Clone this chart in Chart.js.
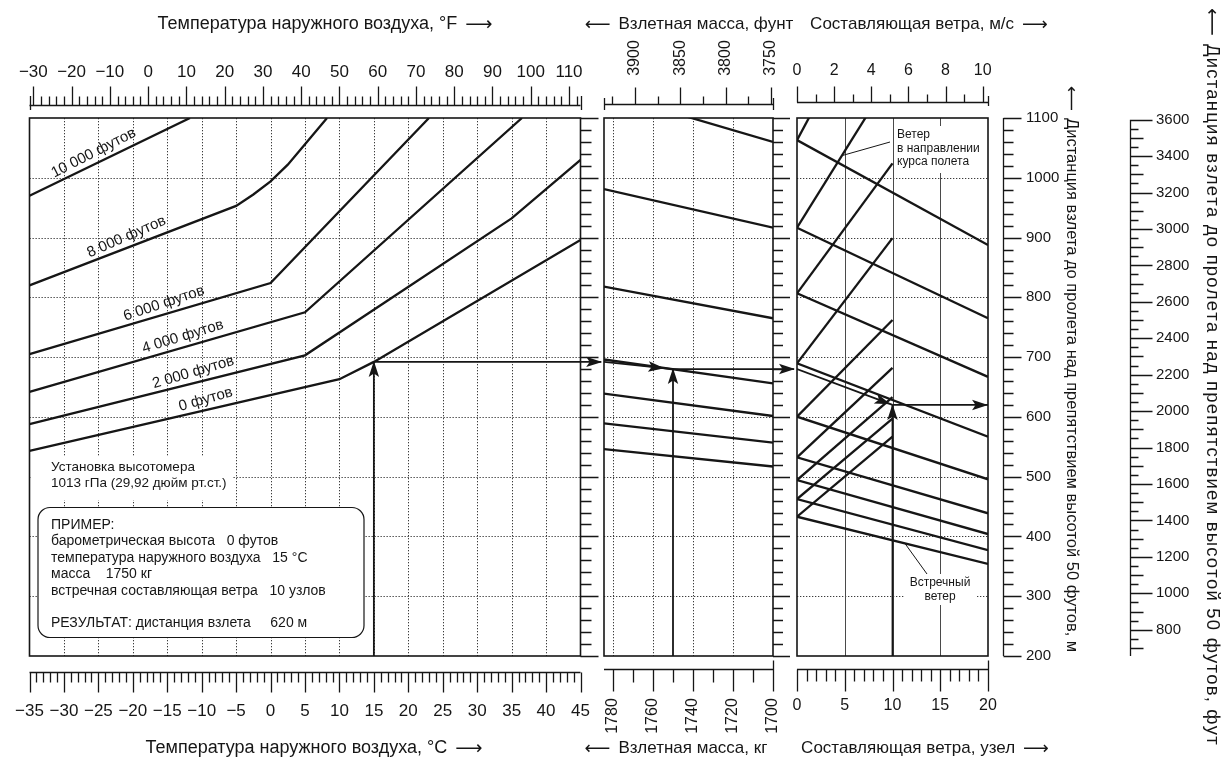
<!DOCTYPE html>
<html lang="ru">
<head>
<meta charset="utf-8">
<title>Дистанция взлета</title>
<script src="https://cdn.jsdelivr.net/npm/chart.js@4.4.1/dist/chart.umd.min.js"></script>
<style>
  html, body { margin: 0; padding: 0; background: #ffffff; }
  #sheet { position: relative; width: 1225px; height: 758px; overflow: hidden; background: #ffffff; }
  #sheet canvas { position: absolute; left: 0; top: 0; }
</style>
</head>
<body>
<div id="sheet">
  <canvas id="tempChart" width="1225" height="758"></canvas>
  <canvas id="massChart" width="1225" height="758"></canvas>
  <canvas id="windChart" width="1225" height="758"></canvas>
</div>
<script>
// ---------- temperature panel: distance (m) against OAT (°C), one curve per pressure altitude ----------
const altitudeNames = ['10 000 футов', '8 000 футов', '6 000 футов', '4 000 футов', '2 000 футов', '0 футов'];
const alt10000Temp = [-35, -11.7];
const alt10000Dist = [970, 1100];
const alt8000Temp  = [-35, -5, -2.5, 0, 2.5, 5, 8.2];
const alt8000Dist  = [820, 953, 972, 994, 1022, 1056, 1100];
const alt6000Temp  = [-35, 0, 23];
const alt6000Dist  = [705, 824, 1100];
const alt4000Temp  = [-35, 5, 36.5];
const alt4000Dist  = [642, 775, 1100];
const alt2000Temp  = [-35, 5, 35, 45];
const alt2000Dist  = [588, 703, 932, 1030];
const alt0Temp     = [-35, 10, 15, 45];
const alt0Dist     = [543, 663, 692, 896];

// ---------- mass panel: guide lines from the heavy edge to the light edge ----------
const massEdges      = [1784.5, 1700];
const massGuideHeavy = [1143, 981, 818, 696, 639, 589, 546];
const massGuideLight = [1060, 916.5, 765, 656, 601.5, 557, 517];

// ---------- wind panel: calm value, headwind at 20 kt, tailwind at 10 kt ----------
const windCalm   = [1063, 916.5, 806.7, 689.6, 600.3, 532.4, 494.4, 462.6, 433];
const windHead20 = [887.5, 765, 667, 566.8, 495.6, 438.7, 404, 377, 354];
const windTail10 = [1361, 1173, 1024, 899, 762, 682, 633, 597, 567];

// ---------- worked example ----------
const exampleAltitudeFt = 0;
const exampleTempC  = 15;
const exampleMassKg = 1750;
const exampleWindKt = 10;
const exampleDistTemp = 692;
const exampleDistMass = 680;
const exampleDistWind = 620;

// ---------- tick labels ----------
const tempFLabels  = [-30, -20, -10, 0, 10, 20, 30, 40, 50, 60, 70, 80, 90, 100, 110];
const tempCLabels  = [-35, -30, -25, -20, -15, -10, -5, 0, 5, 10, 15, 20, 25, 30, 35, 40, 45];
const massLbLabels = [3900, 3850, 3800, 3750];
const massKgLabels = [1780, 1760, 1740, 1720, 1700];
const windMsLabels = [0, 2, 4, 6, 8, 10];
const windKtLabels = [0, 5, 10, 15, 20];
const distMLabels  = [200, 300, 400, 500, 600, 700, 800, 900, 1000, 1100];
const distFtLabels = [800, 1000, 1200, 1400, 1600, 1800, 2000, 2200, 2400, 2600, 2800, 3000, 3200, 3400, 3600];

// unit conversions for the paired scales
const LB_PER_KG = 2.20462262;
const MS_PER_KT = 0.514444;
const FT_PER_M  = 1 / 0.3048;

// ---------- drawing helpers ----------
const INK  = '#161616';
const GRID = '#3c3c3c';
const FONT = '"Liberation Sans", Arial, Helvetica, sans-serif';
const ARROW_FONT = '"DejaVu Sans", sans-serif';
const DOTS = [1.3, 1.7];
const W = 1225, H = 758, PANEL_TOP = 118, PANEL_BOTTOM = 656;

const signed = v => (v < 0 ? '\u2212' + Math.abs(v) : String(v));
const crisp = v => Math.round(v) + 0.5;
const range = (a, b, s) => { const r = []; for (let v = a; v <= b + 1e-9; v += s) r.push(+v.toFixed(4)); return r; };

function strokeSegs(ctx, segs, width, color, dash) {
  ctx.save();
  ctx.lineWidth = width; ctx.strokeStyle = color; ctx.setLineDash(dash || []);
  ctx.beginPath();
  segs.forEach(s => { ctx.moveTo(s[0], s[1]); ctx.lineTo(s[2], s[3]); });
  ctx.stroke();
  ctx.restore();
}
function gridV(ctx, scale, values, top, bottom, dash, width, color) {
  strokeSegs(ctx, values.map(v => { const X = crisp(scale.getPixelForValue(v)); return [X, top, X, bottom]; }),
    width || 1, color || GRID, dash);
}
function gridH(ctx, scale, values, left, right, dash, width, color) {
  strokeSegs(ctx, values.map(v => { const Y = crisp(scale.getPixelForValue(v)); return [left, Y, right, Y]; }),
    width || 1, color || GRID, dash);
}
function whiteBox(ctx, x, y, w, h) { ctx.save(); ctx.fillStyle = '#ffffff'; ctx.fillRect(x, y, w, h); ctx.restore(); }
function frame(ctx, a) {
  ctx.save(); ctx.lineWidth = 1.6; ctx.strokeStyle = INK;
  ctx.strokeRect(a.left, a.top, a.right - a.left, a.bottom - a.top); ctx.restore();
}
function label(ctx, str, x, y, px, align, rot) {
  ctx.save();
  ctx.font = px + 'px ' + FONT; ctx.fillStyle = INK;
  ctx.textAlign = align || 'center'; ctx.textBaseline = 'middle';
  ctx.translate(x, y); if (rot) ctx.rotate(rot);
  ctx.fillText(str, 0, 0);
  ctx.restore();
}
// axis title with a long arrow before or after it; align: 'center' or 'start'
function title(ctx, str, arrow, x, y, px, opts) {
  const o = opts || {};
  const glyph = arrow === 'left' ? '\u27F5' : '\u27F6';
  const gap = o.gap || 8;
  ctx.save();
  ctx.fillStyle = INK; ctx.textBaseline = 'middle'; ctx.textAlign = 'left';
  ctx.font = (px + 1) + 'px ' + ARROW_FONT;
  const aw = ctx.measureText(glyph).width;
  ctx.font = px + 'px ' + FONT;
  const spacing = o.spacing || 0;
  const tw = ctx.measureText(str).width + spacing * str.length;
  const total = tw + gap + aw;
  ctx.translate(x, y); if (o.rot) ctx.rotate(o.rot);
  let cx = o.align === 'start' ? 0 : -total / 2;
  const drawText = (px0) => {
    ctx.font = px + 'px ' + FONT;
    if (!spacing) { ctx.fillText(str, px0, 0); return; }
    let p = px0;
    for (const ch of str) { ctx.fillText(ch, p, 0); p += ctx.measureText(ch).width + spacing; }
  };
  if (arrow === 'left') {
    ctx.font = (px + 1) + 'px ' + ARROW_FONT; ctx.fillText(glyph, cx, 1); cx += aw + gap;
    drawText(cx);
  } else {
    drawText(cx); cx += tw + gap;
    ctx.font = (px + 1) + 'px ' + ARROW_FONT; ctx.fillText(glyph, cx, 1);
  }
  ctx.restore();
}
function arrowHead(ctx, x, y, ang) {
  ctx.save();
  ctx.translate(x, y); ctx.rotate(ang); ctx.fillStyle = INK;
  ctx.beginPath(); ctx.moveTo(1, 0); ctx.lineTo(-15, -5.2); ctx.lineTo(-11.5, 0); ctx.lineTo(-15, 5.2); ctx.closePath();
  ctx.fill(); ctx.restore();
}
function drawHeads(chart) {
  chart.data.datasets.forEach((ds, i) => {
    if (!ds.heads) return;
    const pts = chart.getDatasetMeta(i).data;
    ds.heads.forEach(h => {
      const p0 = pts[h.seg], p1 = pts[h.seg + 1];
      arrowHead(chart.ctx, p0.x + (p1.x - p0.x) * h.t, p0.y + (p1.y - p0.y) * h.t, Math.atan2(p1.y - p0.y, p1.x - p0.x));
    });
  });
}
// right-hand ladder of 20 m ticks on a panel edge
function ladder(ctx, yScale, x0, minorLen, majorLen) {
  const segs = range(200, 1100, 20).map(m => {
    const Y = crisp(yScale.getPixelForValue(m));
    return [x0, Y, x0 + (m % 100 === 0 ? majorLen : minorLen), Y];
  });
  strokeSegs(ctx, segs, 1.3, INK);
}
// ruler: base line at y between two values, ticks drawn away from the panel (dir -1 up, +1 down)
function hRuler(ctx, scale, y, from, to, ticks, dir) {
  const Y = crisp(y);
  const segs = [[scale.getPixelForValue(from), Y, scale.getPixelForValue(to), Y]];
  ticks.forEach(t => {
    const X = crisp(scale.getPixelForValue(t.v));
    segs.push([X, Y - dir * (t.back || 0), X, Y + dir * t.len]);
  });
  strokeSegs(ctx, segs, 1.3, INK);
}
function vRuler(ctx, scale, x, from, to, ticks) {
  const X = crisp(x);
  const segs = [[X, scale.getPixelForValue(from), X, scale.getPixelForValue(to)]];
  ticks.forEach(t => { const Y = crisp(scale.getPixelForValue(t.v)); segs.push([X, Y, X + t.len, Y]); });
  strokeSegs(ctx, segs, 1.3, INK);
}
function series(xs, ys, extra) {
  return Object.assign({
    data: xs.map((v, i) => ({ x: v, y: ys[i] })),
    showLine: true, borderColor: INK, borderWidth: 2.3, pointRadius: 0, pointHoverRadius: 0,
    tension: 0, fill: false
  }, extra || {});
}
function options(padL, padR, xScale, extraScales) {
  return {
    responsive: false, animation: false, devicePixelRatio: 1, events: [],
    layout: { padding: { left: padL, right: W - padR, top: PANEL_TOP, bottom: H - PANEL_BOTTOM } },
    plugins: { legend: { display: false }, tooltip: { enabled: false } },
    scales: Object.assign({
      x: Object.assign({ type: 'linear', display: false }, xScale),
      y: { type: 'linear', display: false, min: 200, max: 1100 }
    }, extraScales)
  };
}
function pointOnCurve(xs, ys, xv) {
  for (let i = 0; i < xs.length - 1; i++) {
    if (xv >= xs[i] && xv <= xs[i + 1]) {
      const t = (xv - xs[i]) / (xs[i + 1] - xs[i]);
      return ys[i] + (ys[i + 1] - ys[i]) * t;
    }
  }
  return ys[0];
}

// ---------- temperature chart ----------
const altitudeCurves = [
  [alt10000Temp, alt10000Dist], [alt8000Temp, alt8000Dist], [alt6000Temp, alt6000Dist],
  [alt4000Temp, alt4000Dist], [alt2000Temp, alt2000Dist], [alt0Temp, alt0Dist]
];
// where each altitude name sits along its curve (°C) and its slant (degrees)
const altitudeLabelTemp  = [-25, -20.3, -15, -12.3, -10.8, -9];
const altitudeLabelSlant = [-27, -23.5, -18.5, -17, -16.5, -16];

const tempDecor = {
  id: 'tempDecor',
  beforeDatasetsDraw(chart) {
    const { ctx, chartArea: a } = chart; const { x, y } = chart.scales;
    gridV(ctx, x, range(-30, 40, 5), a.top, a.bottom, DOTS);
    gridH(ctx, y, range(300, 1000, 100), a.left, a.right, DOTS);
    // altimeter setting note
    whiteBox(ctx, a.left + 1, 456, 202, 44);
    label(ctx, 'Установка высотомера', 51, 467, 13.5, 'left');
    label(ctx, '1013 гПа (29,92 дюйм рт.ст.)', 51, 483, 13.5, 'left');
    // example box
    ctx.save();
    const bx = 38, by = 507.5, bw = 326, bh = 130, r = 12;
    ctx.beginPath();
    ctx.moveTo(bx + r, by); ctx.lineTo(bx + bw - r, by); ctx.arcTo(bx + bw, by, bx + bw, by + r, r);
    ctx.lineTo(bx + bw, by + bh - r); ctx.arcTo(bx + bw, by + bh, bx + bw - r, by + bh, r);
    ctx.lineTo(bx + r, by + bh); ctx.arcTo(bx, by + bh, bx, by + bh - r, r);
    ctx.lineTo(bx, by + r); ctx.arcTo(bx, by, bx + r, by, r); ctx.closePath();
    ctx.fillStyle = '#ffffff'; ctx.fill(); ctx.lineWidth = 1.2; ctx.strokeStyle = INK; ctx.stroke();
    ctx.restore();
    const lines = [
      ['ПРИМЕР:', 525],
      ['барометрическая высота   ' + exampleAltitudeFt + ' футов', 541.5],
      ['температура наружного воздуха   ' + exampleTempC + ' °C', 558],
      ['масса    ' + exampleMassKg + ' кг', 574.5],
      ['встречная составляющая ветра   ' + exampleWindKt + ' узлов', 591],
      ['РЕЗУЛЬТАТ: дистанция взлета     ' + exampleDistWind + ' м', 623]
    ];
    lines.forEach(l => label(ctx, l[0], 51, l[1], 14, 'left'));
  },
  afterDatasetsDraw(chart) {
    const { ctx } = chart; const { x, y } = chart.scales;
    drawHeads(chart);
    altitudeCurves.forEach((c, i) => {
      const tv = altitudeLabelTemp[i];
      const dv = pointOnCurve(c[0], c[1], tv);
      const px = x.getPixelForValue(tv), py = y.getPixelForValue(dv);
      const ang = altitudeLabelSlant[i] * Math.PI / 180;
      const off = 10.5;
      label(ctx, altitudeNames[i], px + Math.sin(ang) * off, py - Math.cos(ang) * off, 15, 'center', ang);
    });
  },
  afterDraw(chart) {
    const { ctx, chartArea: a } = chart; const { x, y, xF } = chart.scales;
    frame(ctx, a);
    ladder(ctx, y, a.right, 11, 18);
    // °F ruler on top
    const fTicks = range(-30, 112, 2).map(v => ({ v, len: v % 10 === 0 ? 19 : 9 }));
    hRuler(ctx, xF, 105, -31, 113, fTicks, -1);
    strokeSegs(ctx, [[crisp(a.left), 96, crisp(a.left), 110], [crisp(a.right), 96, crisp(a.right), 110]], 1.3, INK);
    tempFLabels.forEach(v => label(ctx, signed(v), xF.getPixelForValue(v), 72, 17));
    title(ctx, 'Температура наружного воздуха, °F', 'right', 325, 24, 18);
    // °C ruler at the bottom
    const cTicks = range(-35, 45, 1).map(v => ({ v, len: v % 5 === 0 ? 20 : 10 }));
    hRuler(ctx, x, 672, -35, 45, cTicks, 1);
    tempCLabels.forEach(v => label(ctx, signed(v), x.getPixelForValue(v), 711, 17));
    title(ctx, 'Температура наружного воздуха, °C', 'right', 314, 748, 18);
  }
};

const tempDatasets = altitudeCurves.map(c => series(c[0], c[1]));
tempDatasets.push(series([exampleTempC, exampleTempC], [200, exampleDistTemp],
  { borderWidth: 1.8, heads: [{ seg: 0, t: 1 }] }));
tempDatasets.push(series([exampleTempC, 48], [exampleDistTemp, exampleDistTemp],
  { borderWidth: 1.8, clip: false, heads: [{ seg: 0, t: 1 }] }));

new Chart(document.getElementById('tempChart'), {
  type: 'scatter',
  data: { datasets: tempDatasets },
  options: options(29.5, 580.5, { min: -35, max: 45 },
    { xF: { type: 'linear', display: false, min: -31, max: 113 } }),
  plugins: [tempDecor]
});

// ---------- mass chart ----------
const massDecor = {
  id: 'massDecor',
  beforeDatasetsDraw(chart) {
    const { ctx, chartArea: a } = chart; const { x, y } = chart.scales;
    gridV(ctx, x, [1780, 1760, 1740, 1720], a.top, a.bottom, DOTS);
    gridH(ctx, y, range(300, 1000, 100), a.left, a.right, DOTS);
  },
  afterDatasetsDraw(chart) { drawHeads(chart); },
  afterDraw(chart) {
    const { ctx, chartArea: a } = chart; const { x, y, xLb } = chart.scales;
    frame(ctx, a);
    ladder(ctx, y, a.right, 10, 17);
    // pound ruler on top
    const lbTicks = range(3750, 3925, 25).map(v => ({ v, len: v % 50 === 0 ? 17 : 8 }));
    hRuler(ctx, xLb, 104, massEdges[0] * LB_PER_KG, massEdges[1] * LB_PER_KG, lbTicks, -1);
    strokeSegs(ctx, [[crisp(a.left), 98, crisp(a.left), 110], [crisp(a.right), 98, crisp(a.right), 110]], 1.3, INK);
    massLbLabels.forEach(v => label(ctx, String(v), xLb.getPixelForValue(v), 58, 16, 'center', -Math.PI / 2));
    title(ctx, 'Взлетная масса, фунт', 'left', 689, 24, 17);
    // kilogram ruler at the bottom
    const kgTicks = range(1700, 1780, 10).map(v => ({ v, len: v % 20 === 0 ? 22 : 13 }));
    kgTicks[0].back = 9;
    hRuler(ctx, x, 669, massEdges[0], massEdges[1], kgTicks, 1);
    massKgLabels.forEach(v => label(ctx, String(v), x.getPixelForValue(v), 716, 16, 'center', -Math.PI / 2));
    title(ctx, 'Взлетная масса, кг', 'left', 676, 748, 17);
  }
};

const massDatasets = massGuideHeavy.map((d, i) => series(massEdges, [d, massGuideLight[i]]));
massDatasets.push(series([massEdges[0], exampleMassKg], [exampleDistTemp, exampleDistMass],
  { borderWidth: 1.8, heads: [{ seg: 0, t: 0.86 }] }));
massDatasets.push(series([exampleMassKg, 1689.5], [exampleDistMass, exampleDistMass],
  { borderWidth: 1.8, clip: false, heads: [{ seg: 0, t: 1 }] }));
massDatasets.push(series([exampleMassKg, exampleMassKg], [200, exampleDistMass],
  { borderWidth: 1.8, heads: [{ seg: 0, t: 1 }] }));

new Chart(document.getElementById('massChart'), {
  type: 'scatter',
  data: { datasets: massDatasets },
  options: options(604, 773, { min: 1700, max: 1784.5, reverse: true },
    { xLb: { type: 'linear', display: false, reverse: true, min: 1700 * LB_PER_KG, max: 1784.5 * LB_PER_KG } }),
  plugins: [massDecor]
});

// ---------- wind chart ----------
const windDecor = {
  id: 'windDecor',
  beforeDatasetsDraw(chart) {
    const { ctx, chartArea: a } = chart; const { x, y } = chart.scales;
    gridH(ctx, y, range(300, 1000, 100), a.left, a.right, DOTS);
    gridV(ctx, x, [5, 10, 15], a.top, a.bottom, [], 1, '#4a4a4a');
    whiteBox(ctx, 894, 126, 92, 47);
    whiteBox(ctx, 905, 574, 71, 31);
    label(ctx, 'Ветер', 897, 135, 12, 'left');
    label(ctx, 'в направлении', 897, 148.5, 12, 'left');
    label(ctx, 'курса полета', 897, 162, 12, 'left');
    label(ctx, 'Встречный', 940, 583, 12, 'center');
    label(ctx, 'ветер', 940, 596.5, 12, 'center');
  },
  afterDatasetsDraw(chart) {
    const { ctx } = chart; const { x, y } = chart.scales;
    drawHeads(chart);
    // leaders from the notes to the line families
    const tailAt = 4.7, headAt = 11.3;
    const tailY = windCalm[1] + (windTail10[1] - windCalm[1]) * tailAt / 10;
    const headY = windCalm[8] + (windHead20[8] - windCalm[8]) * headAt / 20;
    strokeSegs(ctx, [
      [890, 142, x.getPixelForValue(tailAt), y.getPixelForValue(tailY)],
      [927, 574, x.getPixelForValue(headAt), y.getPixelForValue(headY)]
    ], 1, INK);
  },
  afterDraw(chart) {
    const { ctx, chartArea: a } = chart; const { x, y, xMs, yFt } = chart.scales;
    frame(ctx, a);
    // m/s ruler on top
    const msTicks = range(0, 10, 1).map(v => ({ v, len: v % 2 === 0 ? 16 : 8 }));
    hRuler(ctx, xMs, 102, 0, 20 * MS_PER_KT, msTicks, -1);
    strokeSegs(ctx, [[crisp(a.right), 96, crisp(a.right), 106]], 1.3, INK);
    windMsLabels.forEach(v => label(ctx, String(v), xMs.getPixelForValue(v), 71, 16));
    title(ctx, 'Составляющая ветра, м/с', 'right', 929, 24, 17);
    // knot ruler at the bottom
    const ktTicks = range(0, 20, 1).map(v => ({ v, len: v % 5 === 0 ? 22 : 12 }));
    ktTicks[20].back = 9;
    hRuler(ctx, x, 669, 0, 20, ktTicks, 1);
    windKtLabels.forEach(v => label(ctx, String(v), x.getPixelForValue(v), 706, 16));
    title(ctx, 'Составляющая ветра, узел', 'right', 925, 748, 17);
    // metre scale
    const mTicks = range(200, 1100, 20).map(v => ({ v, len: v % 100 === 0 ? 18 : 10 }));
    vRuler(ctx, y, 1003, 200, 1100, mTicks);
    distMLabels.forEach(v => label(ctx, String(v), 1026, y.getPixelForValue(v), 15, 'left'));
    title(ctx, 'Дистанция взлета до пролета над препятствием высотой 50 футов, м', 'left',
      1072, 86, 16.5, { rot: Math.PI / 2, align: 'start', gap: 7 });
    // feet scale
    const ftTicks = range(700, 3600, 50).map(v => ({ v, len: v % 200 === 0 ? 22 : (v % 100 === 0 ? 13 : 8) }));
    vRuler(ctx, yFt, 1130, 200 * FT_PER_M, 3600, ftTicks);
    distFtLabels.forEach(v => label(ctx, String(v), 1156, yFt.getPixelForValue(v), 15, 'left'));
    title(ctx, 'Дистанция взлета до пролета над препятствием высотой 50 футов, фут', 'left',
      1212, 8, 18.5, { rot: Math.PI / 2, align: 'start', gap: 8, spacing: 1.2 });
  }
};

const windDatasets = [];
windCalm.forEach((d, i) => windDatasets.push(series([0, 20], [d, windHead20[i]])));
windCalm.forEach((d, i) => windDatasets.push(series([0, 10], [d, windTail10[i]])));
windDatasets.push(series([0, exampleWindKt], [exampleDistMass, exampleDistWind],
  { borderWidth: 1.8, heads: [{ seg: 0, t: 0.97 }] }));
windDatasets.push(series([exampleWindKt, 20], [exampleDistWind, exampleDistWind],
  { borderWidth: 1.8, heads: [{ seg: 0, t: 0.99 }] }));
windDatasets.push(series([exampleWindKt, exampleWindKt], [200, exampleDistWind],
  { borderWidth: 1.8, heads: [{ seg: 0, t: 1 }] }));

new Chart(document.getElementById('windChart'), {
  type: 'scatter',
  data: { datasets: windDatasets },
  options: options(797, 988, { min: 0, max: 20 }, {
    xMs: { type: 'linear', display: false, min: 0, max: 20 * MS_PER_KT },
    yFt: { type: 'linear', display: false, min: 200 * FT_PER_M, max: 1100 * FT_PER_M }
  }),
  plugins: [windDecor]
});
</script>
</body>
</html>
